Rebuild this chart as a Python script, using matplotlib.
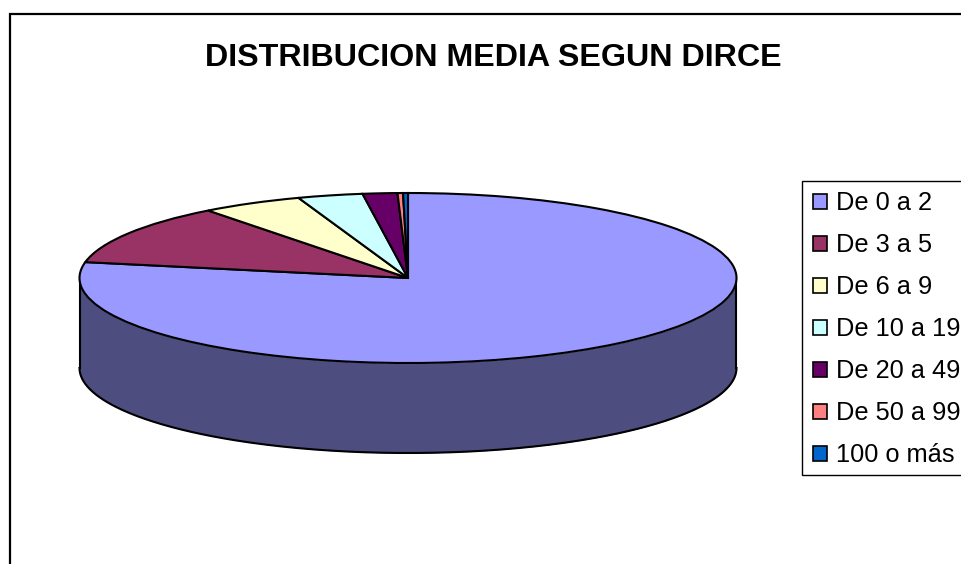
import matplotlib
matplotlib.use('Agg')
import matplotlib.pyplot as plt
import numpy as np

# datos (% aprox.)
categorias = ['De 0 a 2', 'De 3 a 5', 'De 6 a 9', 'De 10 a 19', 'De 20 a 49', 'De 50 a 99', '100 o más']
valores = [77.99, 11.6, 5.0, 3.2, 1.7, 0.27, 0.24]
colores = ['#9999FF', '#993366', '#FFFFCC', '#CCFFFF', '#660066', '#FF8080', '#0066CC']
color_lateral = '#4D4D80'
titulo = 'DISTRIBUCION MEDIA SEGUN DIRCE'

W, H = 962, 564
cx, cy = 408, 278      # centro de la tarta en pixeles
rx, ry = 328.5, 85     # radios de la elipse
prof = 90 / ry         # profundidad del lateral

plt.rcParams['font.family'] = ['Liberation Sans', 'DejaVu Sans']

fig = plt.figure(figsize=(W / 100, H / 100), dpi=100, facecolor='white')
ax = fig.add_axes([0, 0, 1, 1])

# lateral del cilindro
t = np.linspace(np.pi, 2 * np.pi, 300)
ax.fill_between(np.cos(t), np.sin(t), np.sin(t) - prof, color=color_lateral, lw=0, zorder=1)
ax.plot(np.cos(t), np.sin(t) - prof, color='black', lw=1.5, zorder=2)
ax.plot([-1, -1], [0, -prof], color='black', lw=1.5, zorder=2)
ax.plot([1, 1], [0, -prof], color='black', lw=1.5, zorder=2)

# cara superior
wedges, _ = ax.pie(valores, colors=colores, startangle=90, counterclock=False,
                   wedgeprops={'edgecolor': 'black', 'linewidth': 1.5, 'zorder': 3})
for w in wedges:
    w.set_zorder(3)

ax.set_aspect('auto')
ax.set_xlim(-cx / rx, (W - cx) / rx)
ax.set_ylim(-(H - cy) / ry, cy / ry)
ax.axis('off')

# marco del grafico (se sale del lienzo a la derecha y abajo)
fig.add_artist(plt.Rectangle((10 / W, -0.1), 1.1, 1.1 - 14 / H, transform=fig.transFigure,
                             fill=False, edgecolor='black', linewidth=1.6))

fig.text(493 / W, 1 - 58 / H, titulo, fontsize=23.25, fontweight='bold', ha='center', va='center')

# caja de la leyenda aparte para ajustar su alto
fig.add_artist(plt.Rectangle((802 / W, 1 - 475 / H), 200 / W, 294 / H, transform=fig.transFigure,
                             facecolor='white', edgecolor='black', linewidth=1))

leg = fig.legend(wedges, categorias, loc='upper left', bbox_to_anchor=(803 / W, 1 - 181 / H),
                 fontsize=18.3, frameon=False,
                 borderaxespad=0, borderpad=0.4, labelspacing=0.71, handlelength=0.55,
                 handleheight=0.55, handletextpad=0.35)
for h in leg.legend_handles:
    h.set_linewidth(1.2)

fig.savefig('out.png', dpi=100)
